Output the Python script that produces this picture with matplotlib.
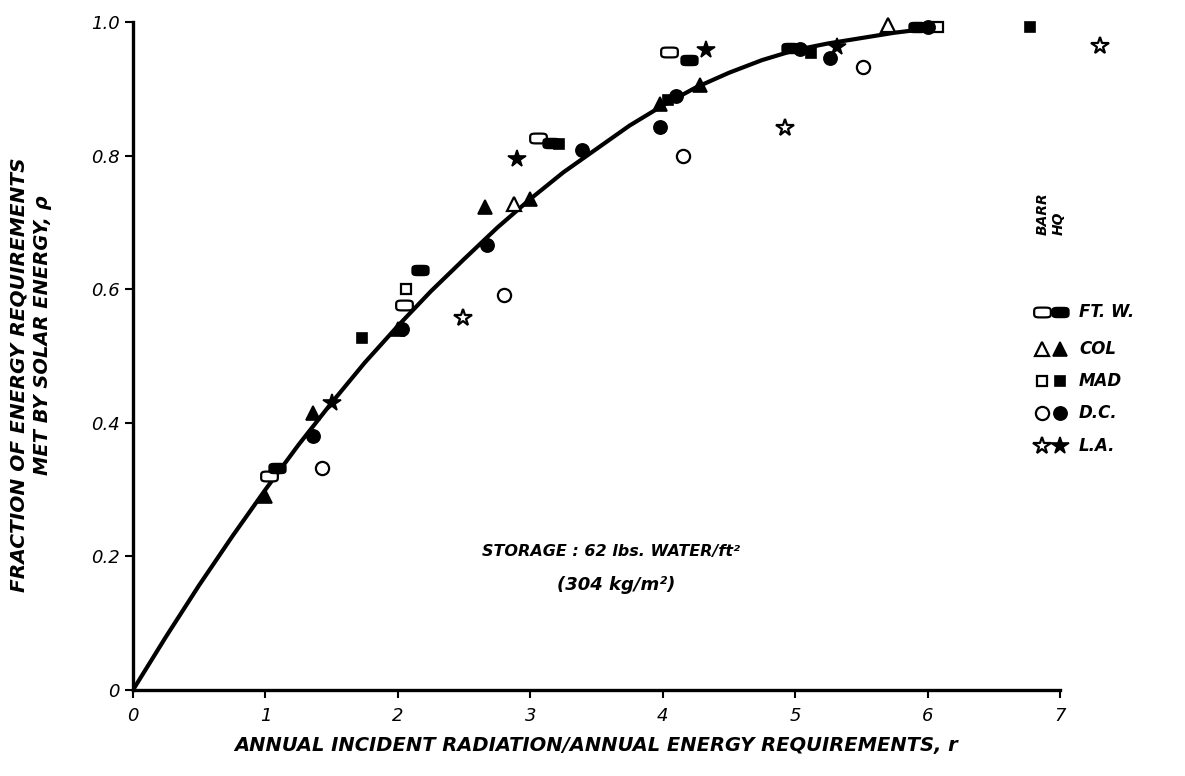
import numpy as np
import matplotlib
matplotlib.use("Agg")
import matplotlib.pyplot as plt
from matplotlib.path import Path

# fitted curve
curve_r = [0, 0.25, 0.5, 0.75, 1.0, 1.25, 1.5, 1.75, 2.0, 2.25, 2.5, 2.75, 3.0,
           3.25, 3.5, 3.75, 4.0, 4.25, 4.5, 4.75, 5.0, 5.25, 5.5, 5.75, 6.0, 6.1]
curve_p = [0, 0.08, 0.157, 0.23, 0.30, 0.367, 0.43, 0.49, 0.545, 0.597, 0.645,
           0.692, 0.735, 0.775, 0.81, 0.845, 0.875, 0.902, 0.924, 0.943, 0.958,
           0.968, 0.976, 0.984, 0.99, 0.992]

# measured points: (r, p) per station, Barr (open) and HQ (filled)
ftw_barr_r = [1.03, 2.05, 3.06, 4.05]
ftw_barr_p = [0.32, 0.576, 0.826, 0.955]
ftw_hq_r = [1.09, 2.17, 3.16, 4.2, 4.96, 5.92]
ftw_hq_p = [0.333, 0.629, 0.819, 0.943, 0.961, 0.993]

col_barr_r = [2.88, 5.7]
col_barr_p = [0.727, 0.996]
col_hq_r = [1.0, 1.36, 2.0, 2.66, 3.0, 3.98, 4.28]
col_hq_p = [0.29, 0.415, 0.54, 0.723, 0.735, 0.877, 0.905]

mad_barr_r = [2.06, 6.08]
mad_barr_p = [0.60, 0.993]
mad_hq_r = [1.73, 3.22, 4.04, 5.12, 6.77]
mad_hq_p = [0.527, 0.817, 0.883, 0.954, 0.993]

dc_barr_r = [1.43, 2.8, 4.15, 5.51]
dc_barr_p = [0.332, 0.591, 0.80, 0.933]
dc_hq_r = [1.36, 2.03, 2.67, 3.39, 3.98, 4.1, 5.04, 5.26, 6.0]
dc_hq_p = [0.38, 0.54, 0.666, 0.808, 0.843, 0.889, 0.96, 0.946, 0.993]

la_barr_r = [2.49, 4.92, 7.3]
la_barr_p = [0.557, 0.841, 0.964]
la_hq_r = [1.5, 2.9, 4.33, 5.32]
la_hq_p = [0.43, 0.795, 0.958, 0.963]

stations = ["FT. W.", "COL", "MAD", "D.C.", "L.A."]

# wide rounded box marker for Ft. Worth
t = np.linspace(0, 2 * np.pi, 60)
c, s = np.cos(t), np.sin(t)
box = np.column_stack([1.7 * np.sign(c) * np.abs(c) ** 0.45,
                       np.sign(s) * np.abs(s) ** 0.45])
rbox = Path(box, closed=True)

marker_style = {
    "FT. W.": (rbox, 12),
    "COL": ("^", 10),
    "MAD": ("s", 6.5),
    "D.C.": ("o", 9.5),
    "L.A.": ("*", 13),
}
series = {
    "FT. W.": (ftw_barr_r, ftw_barr_p, ftw_hq_r, ftw_hq_p),
    "COL": (col_barr_r, col_barr_p, col_hq_r, col_hq_p),
    "MAD": (mad_barr_r, mad_barr_p, mad_hq_r, mad_hq_p),
    "D.C.": (dc_barr_r, dc_barr_p, dc_hq_r, dc_hq_p),
    "L.A.": (la_barr_r, la_barr_p, la_hq_r, la_hq_p),
}

plt.rcParams["font.family"] = "DejaVu Sans"
lab = dict(fontweight="bold", fontstyle="italic")

fig = plt.figure(figsize=(11.85, 7.76), dpi=100)
ax = fig.add_axes([0.1122, 0.1108, 0.7823, 0.8608])

ax.plot(curve_r, curve_p, color="black", lw=3, solid_capstyle="round", zorder=2)

for name in stations:
    br, bp, hr, hp = series[name]
    m, ms = marker_style[name]
    ax.plot(br, bp, ls="none", marker=m, ms=ms, mfc="white", mec="black",
            mew=1.6, clip_on=False, zorder=3)
    ax.plot(hr, hp, ls="none", marker=m, ms=ms, mfc="black", mec="black",
            mew=1.2, clip_on=False, zorder=3)

ax.set_xlim(0, 7)
ax.set_ylim(0, 1.0)
for side in ("top", "right"):
    ax.spines[side].set_visible(False)
for side in ("left", "bottom"):
    ax.spines[side].set_linewidth(2.4)

ax.set_xticks(range(8))
ax.set_xticklabels([str(i) for i in range(8)], fontsize=13, fontstyle="italic")
ax.set_yticks([0, 0.2, 0.4, 0.6, 0.8, 1.0])
ax.set_yticklabels(["0", "0.2", "0.4", "0.6", "0.8", "1.0"], fontsize=13,
                   fontstyle="italic")
ax.tick_params(axis="both", direction="out", length=6, width=1.5)
ax.tick_params(axis="x", pad=6)

ax.set_xlabel("ANNUAL INCIDENT RADIATION/ANNUAL ENERGY REQUIREMENTS, r",
              fontsize=14, labelpad=8, **lab)

fig.text(19 / 1185, 1 - 375 / 776, "FRACTION OF ENERGY REQUIREMENTS",
         rotation=90, ha="center", va="center", fontsize=14.5, **lab)
fig.text(43 / 1185, 1 - 335 / 776, "MET BY SOLAR ENERGY, ρ",
         rotation=90, ha="center", va="center", fontsize=14, **lab)

ax.text(3.61, 0.208, "STORAGE : 62 lbs. WATER/ft²", ha="center", va="center",
        fontsize=11.5, **lab)
ax.text(3.65, 0.157, "(304 kg/m²)", ha="center", va="center", fontsize=13, **lab)

# key at the right
fig.text(1043 / 1185, 1 - 235 / 776, "BARR", rotation=90, ha="center",
         va="bottom", fontsize=10, **lab)
fig.text(1059 / 1185, 1 - 235 / 776, "HQ", rotation=90, ha="center",
         va="bottom", fontsize=10, **lab)
row_y = [312, 349, 381, 413, 446]
for name, yy in zip(stations, row_y):
    m, ms = marker_style[name]
    yf = 1 - yy / 776
    fig.add_artist(plt.Line2D([1042 / 1185], [yf], ls="none", marker=m, ms=ms,
                              mfc="white", mec="black", mew=1.6))
    fig.add_artist(plt.Line2D([1060 / 1185], [yf], ls="none", marker=m, ms=ms,
                              mfc="black", mec="black", mew=1.2))
    fig.text(1079 / 1185, yf, name, ha="left", va="center", fontsize=12, **lab)

fig.savefig("out.png", dpi=100)
